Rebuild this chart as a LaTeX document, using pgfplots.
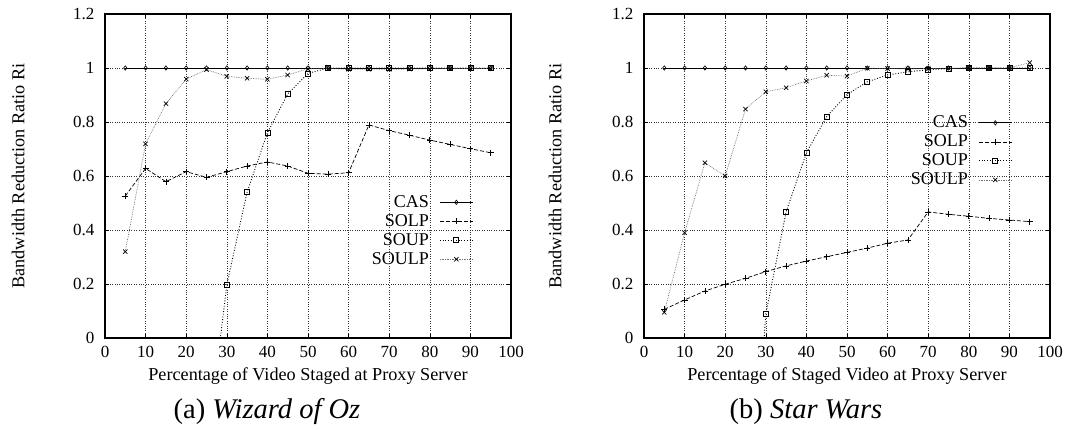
\documentclass[border=0pt]{standalone}
\usepackage{fontspec}
\setmainfont{Liberation Serif}
\usepackage{pgfplots}
\pgfplotsset{compat=1.18}
\begin{document}
\begin{tikzpicture}
\pgfplotsset{
  mystyle/.style={
    width=406pt, height=324pt, scale only axis,
    xmin=0, xmax=100, ymin=0, ymax=1.2,
    xtick={0,10,...,100}, ytick={0,0.2,0.4,0.6,0.8,1,1.2},
    grid=major, major grid style={black!80, dotted, line width=0.6pt},
    tick align=inside, major tick length=4pt,
    tick style={black, line width=0.6pt},
    axis line style={line width=1.1pt},
    /pgf/number format/assume math mode=true,
    tick label style={font=\fontsize{17}{18}\selectfont},
    xticklabel style={yshift=-5pt},
    yticklabel style={xshift=-7pt},
    label style={font=\fontsize{18.2}{20}\selectfont},
    xlabel style={at={(axis description cs:0.5,-0.116)}, anchor=center},
    legend style={draw=none, fill=none, font=\fontsize{18}{18}\selectfont,
      nodes={inner sep=1.5pt, text height=13pt, text depth=3pt}},
    legend cell align=right,
    legend plot pos=right,
    legend image code/.code={\path (0pt,0pt); \draw[mark repeat=2,mark phase=2] plot coordinates {(9pt,0pt)(25.5pt,0pt)(42pt,0pt)};},
  },
  cas/.style={black, line width=0.9pt, mark=diamond, mark size=2.2pt, mark options={solid, fill=white, line width=0.6pt}},
  solp/.style={black, line width=0.7pt, dash pattern=on 4pt off 2pt, mark=+, mark size=3pt, mark options={solid}},
  soup/.style={black, line width=0.9pt, dash pattern=on 0.9pt off 1.8pt, mark=square, mark size=2.5pt, mark options={solid, fill=white, line width=0.7pt}},
  soulp/.style={black!55, line width=0.7pt, densely dotted, mark=x, mark size=3pt, mark options={solid, black}},
}
\useasboundingbox (0pt,0pt) rectangle (1066pt,430pt);

\begin{axis}[mystyle, at={(105pt,92pt)}, anchor=south west,
  xlabel={Percentage of Video Staged at Proxy Server},
  ylabel={Bandwidth Reduction Ratio Ri},
  ylabel style={at={(axis description cs:-0.214,0.5)}, anchor=center},
  legend style={at={(axis description cs:0.915,0.455)}, anchor=north east}]
\addplot[cas] coordinates {(5,1)(10,1)(15,1)(20,1)(25,1)(30,1)(35,1)(40,1)(45,1)(50,1)(55,1)(60,1)(65,1)(70,1)(75,1)(80,1)(85,1)(90,1)(95,1)};
\addlegendentry{CAS}
\addplot[solp] coordinates {(5,0.526)(10,0.628)(15,0.579)(20,0.616)(25,0.595)(30,0.616)(35,0.637)(40,0.652)(45,0.637)(50,0.610)(55,0.607)(60,0.612)(65,0.789)(70,0.768)(75,0.751)(80,0.733)(85,0.717)(90,0.701)(95,0.686)};
\addlegendentry{SOLP}
\addplot[soup] coordinates {(25,-0.43)(30,0.197)(35,0.540)(40,0.760)(45,0.904)(50,0.980)(55,1)(60,1)(65,1)(70,1)(75,1)(80,1)(85,1)(90,1)(95,1)};
\addlegendentry{SOUP}
\addplot[soulp] coordinates {(5,0.320)(10,0.719)(15,0.868)(20,0.959)(25,0.994)(30,0.969)(35,0.962)(40,0.958)(45,0.974)(50,0.997)(55,0.998)(60,0.995)(65,0.995)(70,0.995)(75,0.996)(80,0.997)(85,0.998)(90,0.998)(95,0.998)};
\addlegendentry{SOULP}
\end{axis}

\begin{axis}[mystyle, at={(644pt,92pt)}, anchor=south west,
  xlabel={Percentage of Staged Video at Proxy Server},
  ylabel={Bandwidth Reduction Ratio Ri},
  ylabel style={at={(axis description cs:-0.219,0.5)}, anchor=center},
  legend style={at={(axis description cs:0.915,0.70)}, anchor=north east}]
\addplot[cas] coordinates {(5,1)(10,1)(15,1)(20,1)(25,1)(30,1)(35,1)(40,1)(45,1)(50,1)(55,1)(60,1)(65,1)(70,1)(75,1)(80,1)(85,1)(90,1)(95,1)};
\addlegendentry{CAS}
\addplot[solp] coordinates {(5,0.106)(10,0.141)(15,0.174)(20,0.199)(25,0.221)(30,0.246)(35,0.267)(40,0.285)(45,0.301)(50,0.317)(55,0.333)(60,0.351)(65,0.363)(70,0.467)(75,0.458)(80,0.451)(85,0.443)(90,0.437)(95,0.431)};
\addlegendentry{SOLP}
\addplot[soup] coordinates {(25,-1.0)(30,0.088)(35,0.467)(40,0.686)(45,0.820)(50,0.901)(55,0.949)(60,0.974)(65,0.986)(70,0.993)(75,0.998)(80,1)(85,1)(90,1)(95,1)};
\addlegendentry{SOUP}
\addplot[soulp] coordinates {(5,0.095)(10,0.390)(15,0.649)(20,0.600)(25,0.848)(30,0.912)(35,0.927)(40,0.952)(45,0.973)(50,0.970)(55,0.999)(60,0.998)(65,0.997)(70,0.998)(75,0.999)(80,1)(85,1)(90,1)(95,1.02)};
\addlegendentry{SOULP}
\end{axis}

\node[font=\fontsize{28.5}{30}\selectfont] at (267pt,18pt) {(a) \textit{Wizard of Oz}};
\node[font=\fontsize{28.5}{30}\selectfont] at (806pt,18pt) {(b) \textit{Star Wars}};
\end{tikzpicture}
\end{document}
